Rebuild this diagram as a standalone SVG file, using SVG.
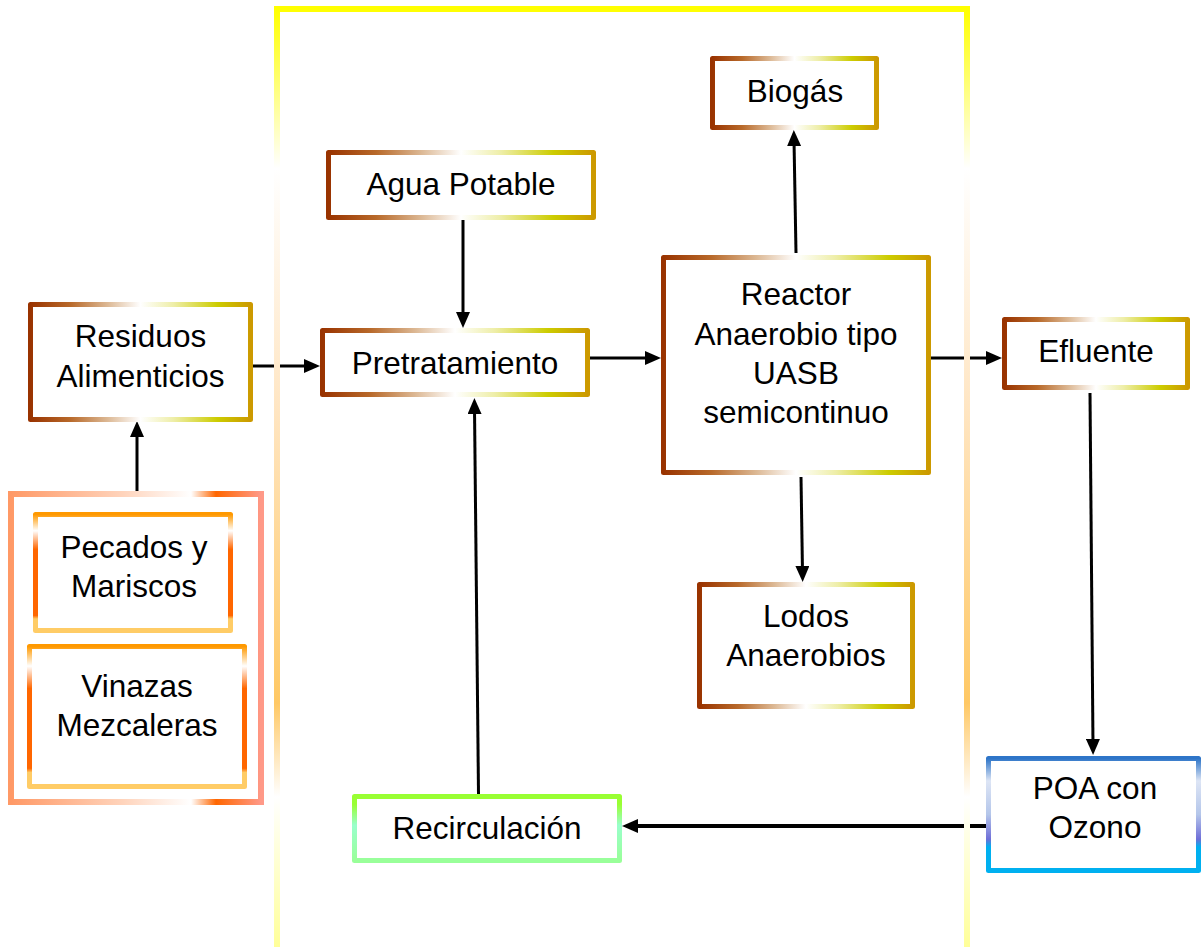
<svg xmlns="http://www.w3.org/2000/svg" width="1202" height="947" viewBox="0 0 1202 947">
<style>
.box{fill:#ffffff;stroke-width:5;stroke-linejoin:round}
.brown{stroke:url(#gBrown)}
.t{font-family:"Liberation Sans",Arial,sans-serif;font-size:31.5px;fill:#000000;text-anchor:middle}
.c{fill:none;stroke:#000000;stroke-width:3;marker-end:url(#arr)}
</style>
<defs>
<linearGradient id="gBrown" x1="0" y1="0" x2="1" y2="0">
<stop offset="0" stop-color="#993300"/>
<stop offset="0.18" stop-color="#B8692A"/>
<stop offset="0.35" stop-color="#DCB894"/>
<stop offset="0.5" stop-color="#FFFFFF"/>
<stop offset="0.65" stop-color="#EEEEA8"/>
<stop offset="0.85" stop-color="#CCCC00"/>
<stop offset="1" stop-color="#CC9900"/>
</linearGradient>
<linearGradient id="gOuter" x1="0" y1="0" x2="1" y2="0">
<stop offset="0" stop-color="#FF9966"/>
<stop offset="0.45" stop-color="#FFD4BC"/>
<stop offset="0.72" stop-color="#FFFFFF"/>
<stop offset="0.82" stop-color="#FF6600"/>
<stop offset="1" stop-color="#FF9988"/>
</linearGradient>
<linearGradient id="gInner" x1="0" y1="0" x2="0" y2="1">
<stop offset="0" stop-color="#FF9900"/>
<stop offset="0.14" stop-color="#FFFFFF"/>
<stop offset="0.3" stop-color="#FF6600"/>
<stop offset="0.87" stop-color="#FF6600"/>
<stop offset="0.9" stop-color="#FFCC66"/>
<stop offset="1" stop-color="#FFCC66"/>
</linearGradient>
<linearGradient id="gGreen" x1="0" y1="0" x2="0" y2="1">
<stop offset="0" stop-color="#99FF33"/>
<stop offset="0.12" stop-color="#99FF33"/>
<stop offset="0.45" stop-color="#99FFCC"/>
<stop offset="1" stop-color="#99FF99"/>
</linearGradient>
<linearGradient id="gBlue" x1="0" y1="0" x2="0" y2="1">
<stop offset="0" stop-color="#2E75C8"/>
<stop offset="0.2" stop-color="#DDE5F5"/>
<stop offset="0.5" stop-color="#B4C6EA"/>
<stop offset="0.72" stop-color="#6F6FD8"/>
<stop offset="0.79" stop-color="#00B0F0"/>
<stop offset="1" stop-color="#00B0F0"/>
</linearGradient>
<linearGradient id="gFrame" gradientUnits="userSpaceOnUse" x1="0" y1="9" x2="0" y2="947">
<stop offset="0" stop-color="#FFFF00"/>
<stop offset="0.07" stop-color="#FFFF66"/>
<stop offset="0.17" stop-color="#FFFFFF"/>
<stop offset="0.42" stop-color="#FFE6C4"/>
<stop offset="0.74" stop-color="#FFC864"/>
<stop offset="0.84" stop-color="#FFFFFF"/>
<stop offset="1" stop-color="#FFFF99"/>
</linearGradient>
<marker id="arr" markerUnits="userSpaceOnUse" markerWidth="16" markerHeight="14" viewBox="0 0 16 14" refX="6" refY="7" orient="auto">
<path d="M0,0 L16,7 L0,14 z" fill="#000000"/>
</marker>
</defs>

<g id="connectors">
<path class="c" d="M253,366 L310,366"/>
<path class="c" d="M463,220 L463,318"/>
<path class="c" d="M590,358 L651,358"/>
<path class="c" d="M796,253 L794,140"/>
<path class="c" d="M801,477 L802.5,572"/>
<path class="c" d="M931,358 L992,358"/>
<path class="c" d="M1090,393 L1093,745"/>
<path class="c" d="M986,826 L632,826" style="stroke-width:4"/>
<path class="c" d="M478.5,794 L474.5,408"/>
<path class="c" d="M137,491 L137,431"/>
</g>

<g id="frame">
<rect x="277" y="9" width="690" height="1000" fill="none" stroke="url(#gFrame)" stroke-width="6"/>
</g>

<g id="node-origen">
<rect x="11" y="494" width="250" height="308" fill="#ffffff" stroke="url(#gOuter)" stroke-width="6"/>
</g>
<g id="node-pecados">
<rect class="box" x="35.5" y="514.5" width="195" height="116" stroke="url(#gInner)"/>
<text class="t" x="134" y="558">Pecados y</text>
<text class="t" x="134" y="597">Mariscos</text>
</g>
<g id="node-vinazas">
<rect class="box" x="29.5" y="646.5" width="215" height="140" stroke="url(#gInner)"/>
<text class="t" x="137" y="697">Vinazas</text>
<text class="t" x="137" y="736">Mezcaleras</text>
</g>
<g id="node-residuos">
<rect class="box brown" x="30.5" y="304.5" width="220" height="115"/>
<text class="t" x="140.5" y="347">Residuos</text>
<text class="t" x="140.5" y="387">Alimenticios</text>
</g>
<g id="node-agua">
<rect class="box brown" x="328.5" y="152.5" width="265" height="65"/>
<text class="t" x="461" y="195">Agua Potable</text>
</g>
<g id="node-pretratamiento">
<rect class="box brown" x="322.5" y="330.5" width="265" height="64"/>
<text class="t" x="455" y="374">Pretratamiento</text>
</g>
<g id="node-biogas">
<rect class="box brown" x="712.5" y="58.5" width="164" height="69"/>
<text class="t" x="795" y="102">Biogás</text>
</g>
<g id="node-reactor">
<rect class="box brown" x="663.5" y="257.5" width="265" height="215"/>
<text class="t" x="796" y="305">Reactor</text>
<text class="t" x="796" y="345">Anaerobio tipo</text>
<text class="t" x="796" y="384">UASB</text>
<text class="t" x="796" y="423">semicontinuo</text>
</g>
<g id="node-efluente">
<rect class="box brown" x="1004.5" y="319.5" width="183" height="68"/>
<text class="t" x="1096" y="362">Efluente</text>
</g>
<g id="node-lodos">
<rect class="box brown" x="699.5" y="584.5" width="213" height="122"/>
<text class="t" x="806" y="627">Lodos</text>
<text class="t" x="806" y="666">Anaerobios</text>
</g>
<g id="node-poa">
<rect class="box" x="988.5" y="758.5" width="210" height="112" stroke="url(#gBlue)"/>
<text class="t" x="1095" y="799">POA con</text>
<text class="t" x="1095" y="838">Ozono</text>
</g>
<g id="node-recirculacion">
<rect class="box" x="354.5" y="796.5" width="265" height="64" stroke="url(#gGreen)"/>
<text class="t" x="487" y="839">Recirculación</text>
</g>
</svg>
